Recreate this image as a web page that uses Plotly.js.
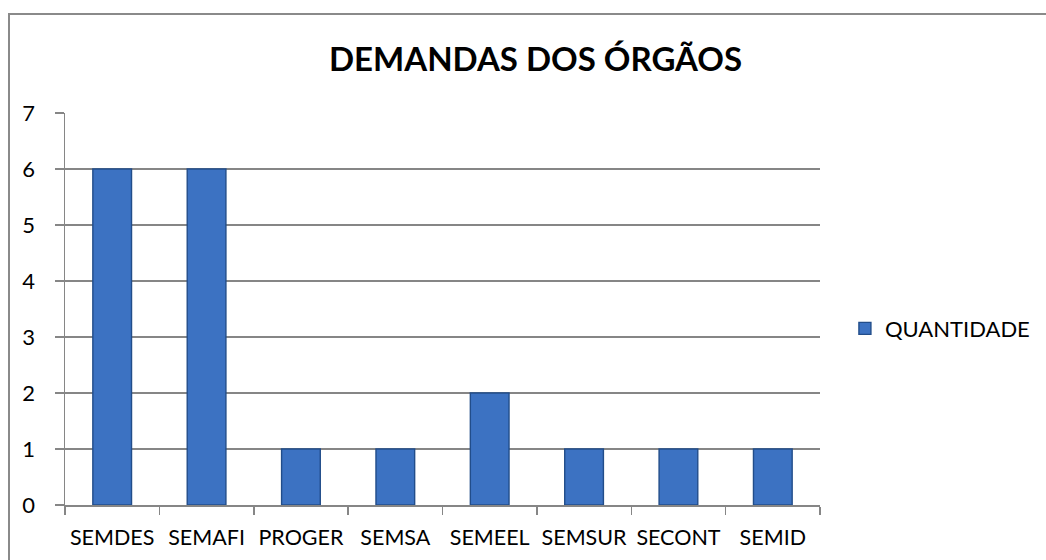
<!DOCTYPE html>
<html>
<head>
<meta charset="utf-8">
<script src="https://cdn.plot.ly/plotly-3.0.1.min.js"></script>
<style>
  html, body { margin: 0; padding: 0; background: #ffffff; overflow: hidden; }
  #wrap { position: relative; width: 1046px; height: 560px; }
  #chart { position: absolute; left: 0; top: 0; width: 1046px; height: 560px; }
  #frame { position: absolute; left: 8px; top: 13px; width: 1100px; height: 700px;
           border: 2px solid #8a8a8a; pointer-events: none; box-sizing: border-box; }
</style>
</head>
<body>
<div id="wrap">
  <div id="chart"></div>
  <div id="frame"></div>
</div>
<script>
const categories = ["SEMDES", "SEMAFI", "PROGER", "SEMSA", "SEMEEL", "SEMSUR", "SECONT", "SEMID"];
const quantidade = [6, 6, 1, 1, 2, 1, 1, 1];
const seriesName = "QUANTIDADE";
const chartTitle = "DEMANDAS DOS ÓRGÃOS";
const yTicks = [0, 1, 2, 3, 4, 5, 6, 7];

const fontFamily = "Lato, 'Open Sans', sans-serif";

const trace = {
  type: "bar",
  x: categories,
  y: quantidade,
  name: seriesName,
  marker: { color: "#3c72c2", line: { color: "#224d8a", width: 1.4 } },
  hoverinfo: "x+y"
};

const layout = {
  width: 1046,
  height: 560,
  margin: { l: 65, r: 226, t: 113, b: 55, autoexpand: false },
  paper_bgcolor: "#ffffff",
  plot_bgcolor: "#ffffff",
  bargap: 0.59,
  showlegend: true,
  title: {
    text: "<b>" + chartTitle + "</b>",
    font: { family: fontFamily, size: 33, color: "#000000" },
    x: 0.512, xref: "container", xanchor: "center",
    y: 0.893, yref: "container", yanchor: "middle"
  },
  font: { family: fontFamily, color: "#000000" },
  xaxis: {
    type: "category",
    automargin: false,
    tickangle: 0,
    showline: true, linecolor: "#868686", linewidth: 1.5,
    ticks: "outside", tickson: "boundaries", ticklen: 8, tickcolor: "#868686", tickwidth: 1.5,
    tickfont: { family: fontFamily, size: 21.5, color: "#000000" },
    showgrid: false,
    ticklabelstandoff: 13
  },
  yaxis: {
    automargin: false,
    range: [0, 7],
    tickvals: yTicks,
    ticktext: yTicks.map(String),
    showline: true, linecolor: "#868686", linewidth: 1.5,
    ticks: "outside", ticklen: 9, tickcolor: "#868686", tickwidth: 1.5,
    showgrid: true, gridcolor: "#868686", gridwidth: 1.2,
    zeroline: false,
    tickfont: { family: fontFamily, size: 22, color: "#000000" },
    ticklabelstandoff: 15
  },
  legend: {
    x: 1.033, xanchor: "left",
    y: 0.45, yanchor: "middle",
    font: { family: fontFamily, size: 22, color: "#000000" },
    bgcolor: "rgba(0,0,0,0)",
    itemwidth: 30
  }
};

Plotly.newPlot("chart", [trace], layout, { displayModeBar: false, staticPlot: true });
</script>
</body>
</html>
